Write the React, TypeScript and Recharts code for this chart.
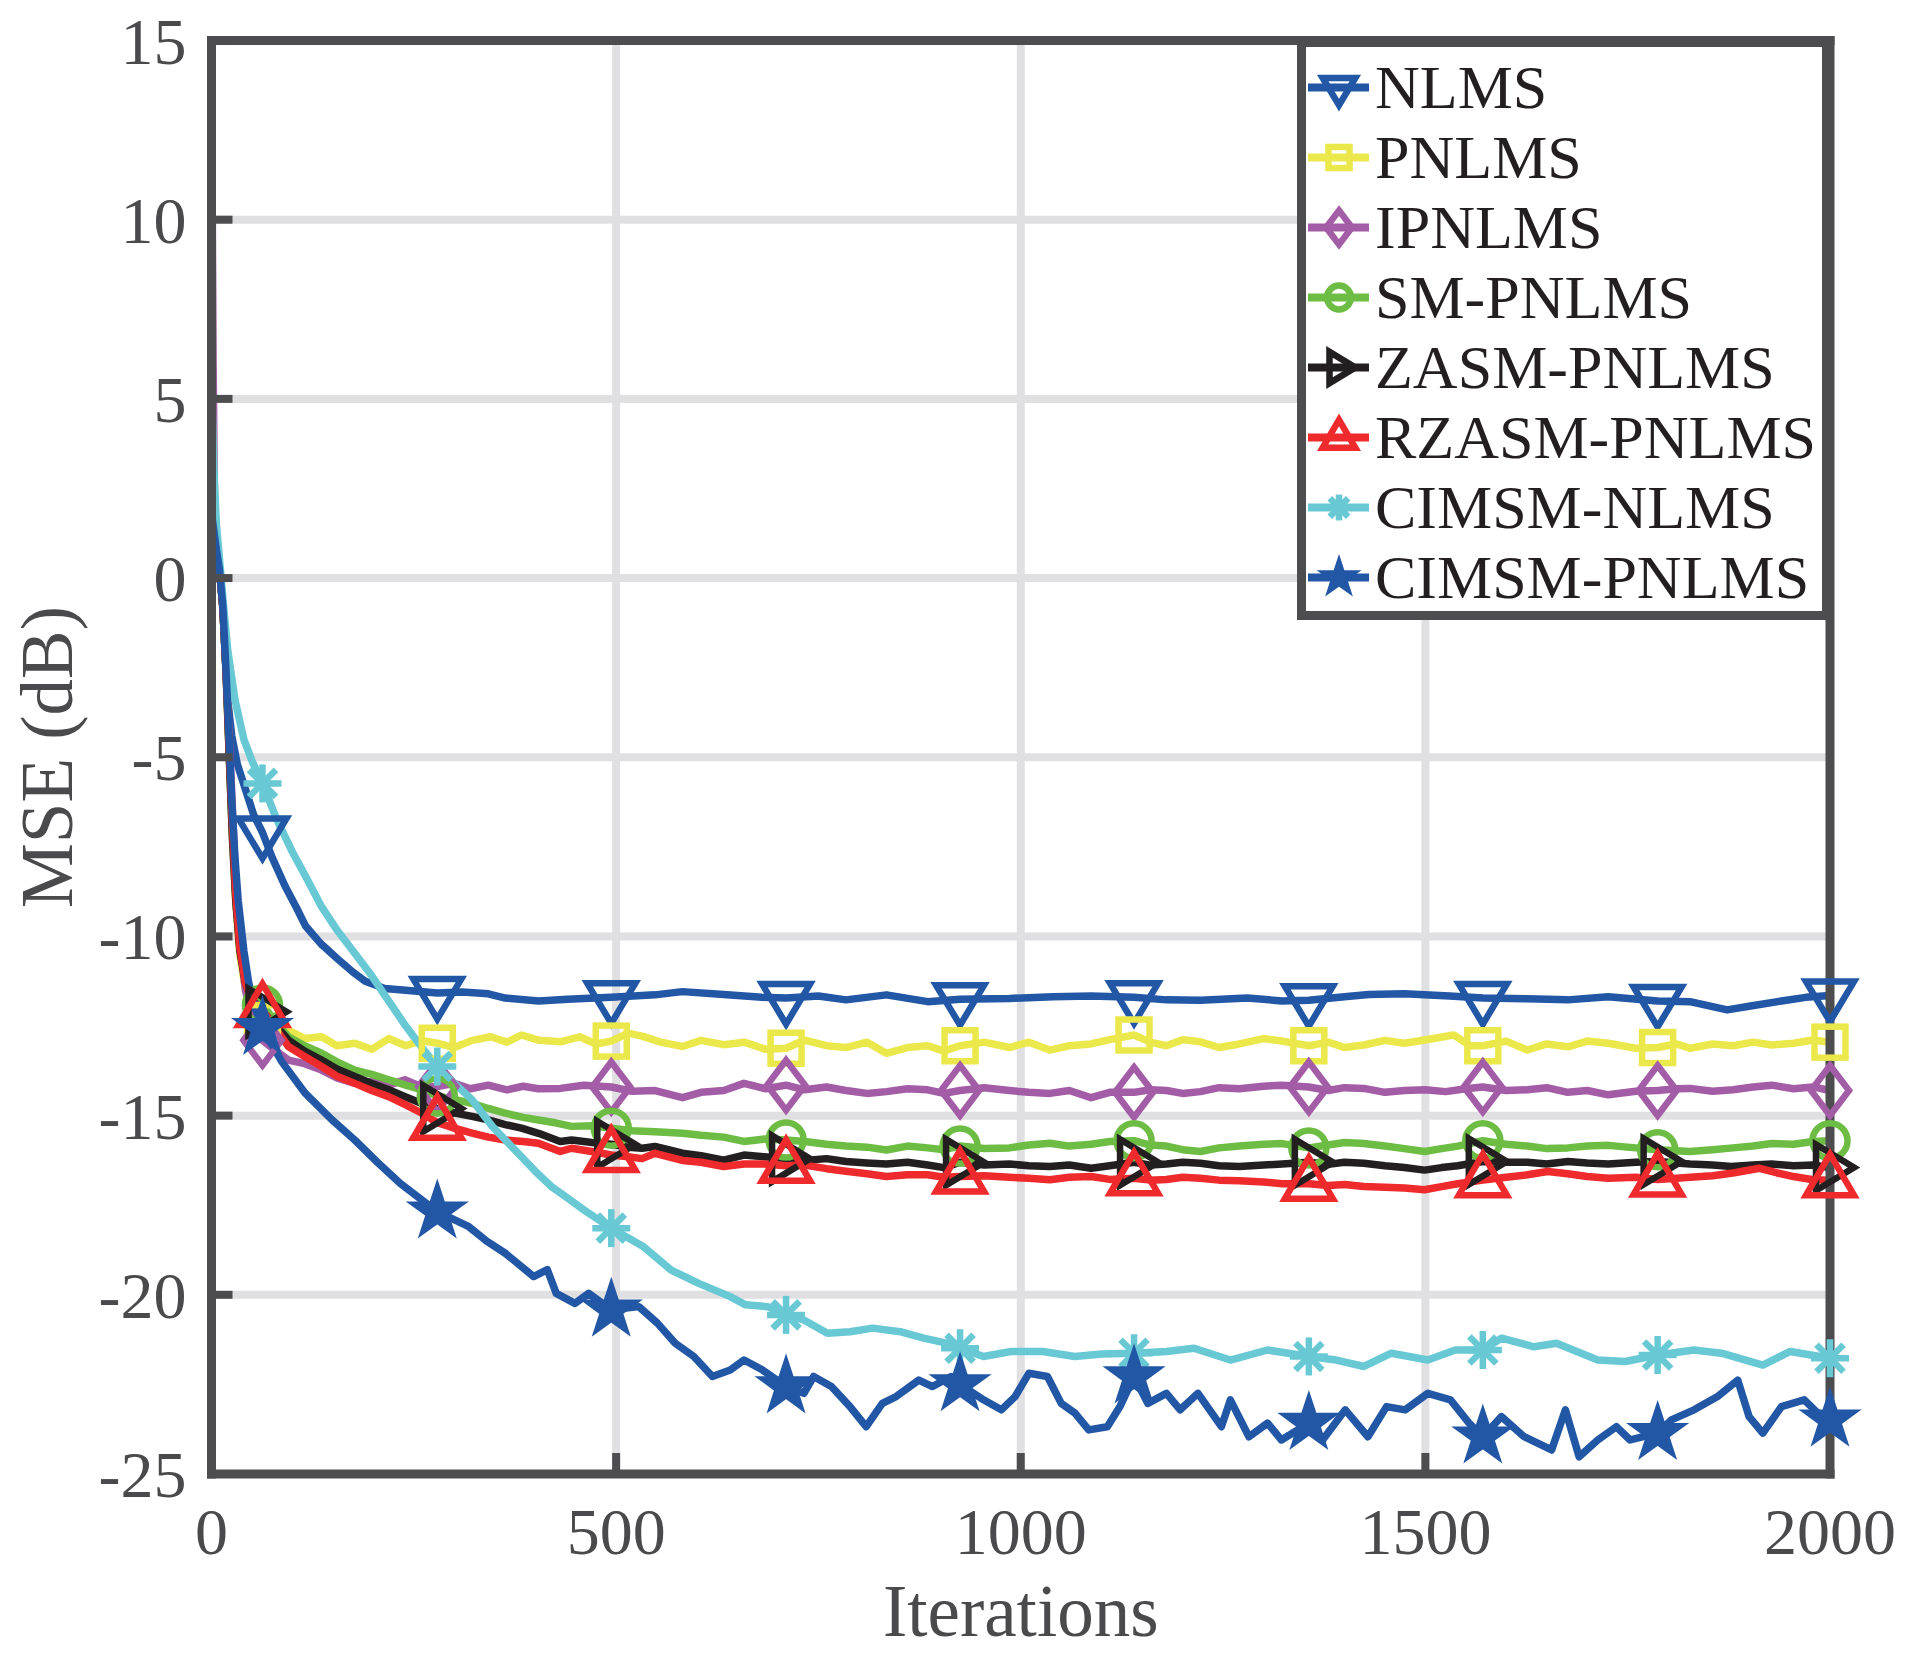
import React from "react";
import { LineChart, Line, XAxis, YAxis, CartesianGrid, Legend } from "recharts";

// iterations where MATLAB-style markers sit on every curve
const MARKER_ITS = [63, 279, 494, 710, 925, 1140, 1356, 1571, 1787, 2000];
const X_TICKS = [0, 500, 1000, 1500, 2000];
const Y_TICKS = [-25, -20, -15, -10, -5, 0, 5, 10, 15];

// [iteration, MSE dB]
const NLMS: [number, number][] = [
  [0, 9], [2, 1.8], [6, 0.8], [10, 0.2], [14, -0.8], [17, -2.2], [20, -3.4], [25, -4.4], [32, -5.2], [42, -5.9],
  [52, -6.6], [63, -7.1], [75, -7.8], [91, -8.6], [105, -9.2], [116, -9.7], [135, -10.2], [157, -10.65], [175, -11.0],
  [190, -11.25], [214, -11.45], [240, -11.5], [279, -11.58], [310, -11.55], [342, -11.6], [363, -11.72], [404, -11.8],
  [440, -11.75], [494, -11.7], [548, -11.63], [582, -11.54], [633, -11.62], [680, -11.7], [710, -11.72], [750, -11.66],
  [784, -11.77], [834, -11.63], [885, -11.82], [925, -11.75], [986, -11.73], [1040, -11.68], [1087, -11.66],
  [1140, -11.7], [1180, -11.77], [1222, -11.78], [1280, -11.72], [1323, -11.8], [1356, -11.78], [1400, -11.68],
  [1430, -11.62], [1474, -11.6], [1530, -11.66], [1571, -11.72], [1626, -11.74], [1676, -11.77], [1726, -11.68],
  [1787, -11.8], [1827, -11.82], [1873, -12.05], [1900, -11.95], [1940, -11.8], [1970, -11.7], [2000, -11.65],
];

const PNLMS: [number, number][] = [
  [0, 8], [2, 1.8], [6, 0.8], [10, 0.2], [14, -0.8], [18, -2.6], [22, -5], [26, -7.2], [30, -9], [35, -10.5],
  [42, -11.5], [50, -12.0], [63, -12.35], [80, -12.5], [95, -12.61], [115, -12.85], [136, -12.8], [155, -13.05],
  [177, -12.98], [198, -13.15], [219, -12.85], [240, -13.05], [260, -12.9], [279, -12.98], [300, -13.1], [322, -12.9],
  [345, -12.8], [365, -12.95], [383, -12.75], [405, -12.9], [431, -12.94], [455, -12.8], [475, -13.0], [494, -12.92],
  [515, -12.7], [532, -12.78], [555, -12.95], [582, -13.07], [605, -12.9], [633, -13.02], [658, -12.95], [685, -13.15],
  [710, -13.12], [733, -12.89], [760, -13.05], [784, -13.1], [810, -12.95], [834, -13.26], [860, -13.1], [885, -13.05],
  [905, -13.2], [925, -13.05], [955, -12.95], [986, -13.1], [1010, -12.95], [1036, -13.17], [1060, -13.05],
  [1087, -13.0], [1110, -12.88], [1140, -12.75], [1160, -12.95], [1180, -13.05], [1200, -12.88], [1222, -12.94],
  [1245, -13.1], [1270, -13.0], [1300, -12.85], [1323, -12.92], [1356, -13.05], [1380, -12.95], [1400, -13.1],
  [1424, -13.03], [1450, -12.9], [1474, -12.98], [1499, -12.89], [1535, -12.75], [1555, -13.05], [1571, -13.05],
  [1600, -12.92], [1626, -13.17], [1650, -13.0], [1676, -13.08], [1700, -12.92], [1726, -12.98], [1760, -13.12],
  [1787, -13.1], [1810, -13.0], [1827, -13.12], [1855, -13.0], [1880, -13.05], [1905, -12.95], [1928, -13.03],
  [1955, -12.98], [1979, -12.89], [2000, -12.95],
];

const IPNLMS: [number, number][] = [
  [0, 13], [1, 10], [2, 6], [4, 1.5], [8, 0.4], [12, -0.2], [16, -1.5], [20, -3.5], [25, -6.0], [30, -8.5],
  [35, -10.2], [42, -11.5], [50, -12.3], [63, -12.9], [80, -13.2], [95, -13.45], [115, -13.55], [136, -13.73],
  [155, -13.95], [177, -14.1], [198, -14.05], [219, -14.15], [239, -14.0], [260, -14.2], [279, -14.19], [300, -14.1],
  [320, -14.25], [342, -14.15], [365, -14.28], [385, -14.18], [404, -14.25], [431, -14.24], [460, -14.15],
  [494, -14.2], [520, -14.32], [548, -14.3], [582, -14.5], [605, -14.35], [633, -14.3], [658, -14.1], [685, -14.25],
  [710, -14.15], [733, -14.28], [760, -14.2], [784, -14.3], [810, -14.38], [834, -14.33], [860, -14.25],
  [885, -14.28], [905, -14.38], [925, -14.3], [955, -14.22], [986, -14.3], [1010, -14.35], [1036, -14.38],
  [1060, -14.3], [1087, -14.5], [1110, -14.35], [1140, -14.35], [1160, -14.28], [1180, -14.3], [1200, -14.38],
  [1222, -14.33], [1245, -14.22], [1270, -14.25], [1300, -14.18], [1323, -14.15], [1356, -14.2], [1380, -14.3],
  [1400, -14.22], [1424, -14.24], [1450, -14.35], [1474, -14.3], [1500, -14.28], [1525, -14.33], [1550, -14.25],
  [1571, -14.2], [1600, -14.3], [1626, -14.28], [1650, -14.22], [1676, -14.35], [1700, -14.3], [1726, -14.42],
  [1760, -14.32], [1787, -14.3], [1810, -14.25], [1827, -14.24], [1855, -14.32], [1880, -14.28], [1905, -14.2],
  [1928, -14.15], [1955, -14.25], [1979, -14.2], [2000, -14.3],
];

const SM_PNLMS: [number, number][] = [
  [0, 1.8], [6, 0.8], [10, 0.2], [14, -0.8], [18, -2.6], [22, -5], [26, -7.3], [30, -9.0], [35, -10.3], [42, -11.2],
  [50, -11.6], [63, -11.91], [80, -12.4], [95, -12.8], [115, -13.05], [136, -13.26], [155, -13.5], [177, -13.73],
  [198, -13.85], [219, -14.0], [240, -14.15], [260, -14.28], [279, -14.45], [300, -14.55], [322, -14.66],
  [342, -14.8], [363, -14.93], [385, -15.05], [404, -15.12], [425, -15.2], [445, -15.3], [470, -15.28],
  [494, -15.35], [520, -15.42], [548, -15.45], [582, -15.49], [605, -15.55], [633, -15.6], [658, -15.72],
  [685, -15.65], [710, -15.68], [733, -15.72], [760, -15.8], [784, -15.85], [810, -15.88], [834, -15.96],
  [860, -15.85], [885, -15.9], [905, -15.95], [925, -15.85], [955, -15.92], [986, -15.9], [1010, -15.82],
  [1036, -15.77], [1060, -15.85], [1087, -15.8], [1110, -15.72], [1140, -15.7], [1160, -15.82], [1180, -15.85],
  [1200, -15.95], [1222, -16.0], [1245, -15.9], [1270, -15.85], [1300, -15.8], [1323, -15.78], [1356, -15.9],
  [1380, -15.82], [1400, -15.75], [1424, -15.78], [1450, -15.85], [1474, -15.92], [1499, -16.0], [1520, -15.92],
  [1540, -15.85], [1571, -15.7], [1600, -15.8], [1626, -15.85], [1650, -15.92], [1676, -15.9], [1700, -15.85],
  [1726, -15.83], [1760, -15.9], [1787, -15.95], [1810, -15.98], [1827, -16.0], [1855, -15.95], [1880, -15.9],
  [1905, -15.85], [1928, -15.78], [1955, -15.8], [1979, -15.72], [2000, -15.7],
];

const ZASM_PNLMS: [number, number][] = [
  [0, 1.8], [6, 0.8], [10, 0.2], [14, -0.8], [18, -2.6], [22, -5], [26, -7.3], [30, -9.0], [35, -10.4], [42, -11.3],
  [50, -11.75], [63, -12.1], [80, -12.5], [95, -12.89], [115, -13.2], [136, -13.45], [155, -13.7], [177, -13.91],
  [198, -14.1], [219, -14.28], [240, -14.48], [260, -14.66], [279, -14.8], [301, -14.93], [322, -15.02],
  [342, -15.12], [363, -15.25], [383, -15.35], [405, -15.5], [431, -15.72], [445, -15.68], [470, -15.75],
  [494, -15.8], [515, -15.88], [532, -15.91], [548, -15.86], [582, -16.05], [605, -16.12], [633, -16.24],
  [658, -16.1], [683, -16.15], [710, -16.2], [733, -16.25], [760, -16.2], [784, -16.28], [810, -16.32],
  [834, -16.35], [860, -16.3], [885, -16.38], [905, -16.45], [925, -16.3], [955, -16.38], [986, -16.35],
  [1010, -16.4], [1036, -16.42], [1060, -16.38], [1087, -16.47], [1110, -16.4], [1140, -16.3], [1160, -16.38],
  [1180, -16.35], [1200, -16.3], [1222, -16.33], [1245, -16.4], [1270, -16.42], [1300, -16.38], [1323, -16.35],
  [1356, -16.3], [1380, -16.36], [1400, -16.3], [1424, -16.33], [1450, -16.4], [1474, -16.45], [1499, -16.52],
  [1520, -16.45], [1540, -16.4], [1571, -16.28], [1600, -16.3], [1626, -16.3], [1650, -16.35], [1676, -16.28],
  [1700, -16.32], [1726, -16.35], [1760, -16.3], [1787, -16.28], [1810, -16.32], [1827, -16.35], [1855, -16.38],
  [1878, -16.42], [1905, -16.38], [1928, -16.35], [1955, -16.4], [1979, -16.38], [2000, -16.45],
];

const RZASM_PNLMS: [number, number][] = [
  [0, 1.8], [6, 0.8], [10, 0.2], [14, -0.8], [18, -2.6], [22, -4.8], [26, -7.0], [30, -8.8], [35, -10.3],
  [42, -11.3], [50, -11.8], [63, -12.05], [80, -12.6], [95, -13.07], [115, -13.35], [136, -13.63], [155, -13.9],
  [177, -14.1], [198, -14.3], [219, -14.47], [240, -14.7], [260, -14.93], [279, -15.2], [300, -15.35],
  [322, -15.49], [342, -15.6], [363, -15.68], [385, -15.72], [404, -15.77], [431, -16.0], [445, -15.91],
  [470, -16.0], [494, -16.1], [515, -16.15], [532, -16.2], [548, -16.05], [582, -16.25], [605, -16.3],
  [633, -16.42], [658, -16.35], [683, -16.35], [710, -16.4], [733, -16.38], [760, -16.48], [784, -16.55],
  [810, -16.62], [834, -16.7], [860, -16.65], [885, -16.65], [905, -16.72], [925, -16.7], [955, -16.68],
  [986, -16.72], [1010, -16.75], [1036, -16.79], [1060, -16.72], [1087, -16.7], [1110, -16.78], [1140, -16.75],
  [1160, -16.8], [1180, -16.78], [1200, -16.72], [1222, -16.75], [1245, -16.8], [1270, -16.82], [1300, -16.85],
  [1323, -16.9], [1356, -16.9], [1380, -16.95], [1400, -16.92], [1424, -16.98], [1450, -17.0], [1474, -17.02],
  [1499, -17.07], [1520, -16.98], [1540, -16.9], [1571, -16.8], [1600, -16.72], [1626, -16.65], [1651, -16.56],
  [1676, -16.62], [1700, -16.7], [1726, -16.75], [1760, -16.72], [1787, -16.78], [1810, -16.75], [1827, -16.72],
  [1855, -16.68], [1880, -16.6], [1913, -16.47], [1935, -16.6], [1955, -16.7], [1979, -16.79], [2000, -16.8],
];

const CIMSM_NLMS: [number, number][] = [
  [0, 5.4], [3, 3], [6, 1.5], [10, 0.5], [15, -0.8], [20, -2.0], [29, -3.4], [40, -4.5], [50, -5.1], [63, -5.73],
  [80, -6.7], [99, -7.6], [118, -8.4], [136, -9.17], [156, -9.85], [177, -10.47], [198, -11.1], [218, -11.77],
  [240, -12.5], [260, -13.1], [279, -13.63], [300, -14.1], [322, -14.56], [347, -15.3], [375, -15.96],
  [400, -16.55], [420, -16.98], [440, -17.3], [460, -17.63], [494, -18.14], [534, -18.66], [568, -19.31],
  [602, -19.68], [641, -20.05], [660, -20.28], [687, -20.33], [710, -20.56], [732, -20.7], [761, -21.07],
  [789, -21.03], [817, -20.93], [851, -21.03], [880, -21.21], [908, -21.35], [925, -21.49], [954, -21.72],
  [988, -21.58], [1027, -21.58], [1067, -21.72], [1100, -21.65], [1140, -21.63], [1180, -21.58], [1214, -21.49],
  [1259, -21.82], [1305, -21.54], [1356, -21.72], [1390, -21.82], [1424, -22.0], [1458, -21.63], [1503, -21.82],
  [1537, -21.54], [1571, -21.54], [1594, -21.21], [1634, -21.45], [1662, -21.35], [1713, -21.82], [1747, -21.86],
  [1787, -21.68], [1832, -21.54], [1866, -21.63], [1917, -21.96], [1951, -21.58], [2000, -21.77],
];

const CIMSM_PNLMS: [number, number][] = [
  [0, 1.8], [6, 0.8], [10, 0.2], [14, -0.8], [18, -2.6], [22, -4.6], [25, -6.2], [29, -7.8], [33, -9.0],
  [40, -10.4], [46, -11.3], [54, -12.0], [63, -12.56], [87, -13.5], [116, -14.38], [149, -15.12], [177, -15.68],
  [205, -16.3], [233, -16.89], [279, -17.68], [318, -18.1], [340, -18.5], [363, -18.84], [398, -19.49],
  [415, -19.3], [426, -19.96], [449, -20.24], [466, -19.96], [494, -20.42], [528, -20.33], [551, -20.79],
  [573, -21.35], [596, -21.72], [619, -22.28], [641, -22.1], [658, -21.82], [681, -22.1], [710, -22.56],
  [732, -22.75], [744, -22.28], [766, -22.56], [789, -23.12], [809, -23.68], [829, -23.03], [846, -22.84],
  [874, -22.38], [891, -22.56], [914, -22.28], [925, -22.5], [954, -22.93], [976, -23.21], [993, -22.84],
  [1010, -22.19], [1033, -22.28], [1050, -23.03], [1067, -23.3], [1084, -23.77], [1107, -23.68], [1123, -23.1],
  [1140, -22.28], [1157, -23.03], [1180, -22.75], [1197, -23.21], [1219, -22.75], [1248, -23.68], [1259, -22.93],
  [1282, -23.96], [1305, -23.58], [1322, -24.05], [1356, -23.58], [1373, -24.05], [1401, -23.21], [1429, -23.96],
  [1452, -23.12], [1475, -23.21], [1503, -22.75], [1531, -22.93], [1554, -23.58], [1571, -23.96], [1594, -23.4],
  [1622, -23.96], [1656, -24.33], [1673, -23.21], [1690, -24.52], [1713, -24.05], [1736, -23.68], [1753, -24.05],
  [1787, -23.86], [1804, -23.49], [1832, -23.21], [1861, -22.84], [1886, -22.38], [1900, -23.4], [1917, -23.86],
  [1940, -23.12], [1968, -22.93], [1985, -23.3], [2000, -23.49],
];

type Shape = "triDown" | "square" | "diamond" | "circle" | "triRight" | "triUp" | "asterisk" | "star";

const SERIES: { name: string; values: [number, number][]; color: string; shape: Shape }[] = [
  { name: "NLMS", values: NLMS, color: "#2257a6", shape: "triDown" },
  { name: "PNLMS", values: PNLMS, color: "#ebe84c", shape: "square" },
  { name: "IPNLMS", values: IPNLMS, color: "#a35ca6", shape: "diamond" },
  { name: "SM-PNLMS", values: SM_PNLMS, color: "#6dbd45", shape: "circle" },
  { name: "ZASM-PNLMS", values: ZASM_PNLMS, color: "#231f20", shape: "triRight" },
  { name: "RZASM-PNLMS", values: RZASM_PNLMS, color: "#ee2a2c", shape: "triUp" },
  { name: "CIMSM-NLMS", values: CIMSM_NLMS, color: "#68c9d4", shape: "asterisk" },
  { name: "CIMSM-PNLMS", values: CIMSM_PNLMS, color: "#2257a6", shape: "star" },
];

const FRAME = "#4d4d4f";
const LABEL = "#4a4a4c";
const SERIF = "'Liberation Serif', 'Times New Roman', serif";
const markerSet = new Set(MARKER_ITS);

function Marker({ shape, cx, cy, color, s = 1 }: { shape: Shape; cx: number; cy: number; color: string; s?: number }) {
  const common = { fill: "none", stroke: color, strokeWidth: 6.5, strokeLinejoin: "miter" as const };
  switch (shape) {
    case "triDown":
      return <polygon {...common} points={`${cx - 24 * s},${cy - 14 * s} ${cx + 24 * s},${cy - 14 * s} ${cx},${cy + 26 * s}`} />;
    case "square":
      return <rect {...common} x={cx - 15.5 * s} y={cy - 15.5 * s} width={31 * s} height={31 * s} />;
    case "diamond":
      return <polygon {...common} points={`${cx},${cy - 25 * s} ${cx + 19 * s},${cy} ${cx},${cy + 25 * s} ${cx - 19 * s},${cy}`} />;
    case "circle":
      return <circle {...common} cx={cx} cy={cy} r={17.5 * s} />;
    case "triRight":
      return <polygon {...common} points={`${cx - 14 * s},${cy - 23 * s} ${cx - 14 * s},${cy + 23 * s} ${cx + 24 * s},${cy}`} />;
    case "triUp":
      return <polygon {...common} points={`${cx - 24 * s},${cy + 15 * s} ${cx + 24 * s},${cy + 15 * s} ${cx},${cy - 26 * s}`} />;
    case "asterisk": {
      const a = 19 * s;
      const d = 13.5 * s;
      return (
        <g stroke={color} strokeWidth={6.5}>
          <line x1={cx - a} y1={cy} x2={cx + a} y2={cy} />
          <line x1={cx} y1={cy - a} x2={cx} y2={cy + a} />
          <line x1={cx - d} y1={cy - d} x2={cx + d} y2={cy + d} />
          <line x1={cx - d} y1={cy + d} x2={cx + d} y2={cy - d} />
        </g>
      );
    }
    case "star": {
      const pts: string[] = [];
      for (let i = 0; i < 10; i++) {
        const r = (i % 2 === 0 ? 30 : 11.5) * s;
        const ang = -Math.PI / 2 + (i * Math.PI) / 5;
        pts.push(`${cx + r * Math.cos(ang)},${cy + r * Math.sin(ang)}`);
      }
      return <polygon points={pts.join(" ")} fill={color} stroke={color} strokeWidth={2} />;
    }
  }
  return null;
}

const LeftTick = (p: any) => (
  <g>
    <line x1={p.x} x2={p.x + 21} y1={p.y} y2={p.y} stroke={FRAME} strokeWidth={8} />
    <text x={p.x - 25} y={p.y + 23} textAnchor="end" fontSize={66} fontFamily={SERIF} fill={LABEL}>
      {p.payload.value}
    </text>
  </g>
);

const RightTick = (p: any) => <line x1={p.x} x2={p.x - 21} y1={p.y} y2={p.y} stroke={FRAME} strokeWidth={8} />;

const TopTick = (p: any) => <line x1={p.x} x2={p.x} y1={p.y} y2={p.y + 21} stroke={FRAME} strokeWidth={8} />;

const BottomTick = (p: any) => (
  <g>
    <line x1={p.x} x2={p.x} y1={p.y} y2={p.y - 21} stroke={FRAME} strokeWidth={8} />
    <text x={p.x} y={p.y + 80} textAnchor="middle" fontSize={66} fontFamily={SERIF} fill={LABEL}>
      {p.payload.value}
    </text>
  </g>
);

const YTitle = () => (
  <text transform="translate(72,757) rotate(-90)" x={0} y={0} textAnchor="middle" fontSize={73} fontFamily={SERIF} fill={LABEL}>
    MSE (dB)
  </text>
);

function LegendBox() {
  return (
    <svg width={534} height={582} style={{ display: "block" }}>
      <rect x={4.5} y={4.5} width={525} height={573} fill="#ffffff" stroke={FRAME} strokeWidth={9} />
      {SERIES.map((s, i) => {
        const cy = 49.5 + i * 70;
        return (
          <g key={s.name}>
            <line x1={11} x2={72} y1={cy} y2={cy} stroke={s.color} strokeWidth={8} />
            <Marker shape={s.shape} cx={42} cy={cy} color={s.color} s={0.68} />
            <text x={78} y={cy + 20} fontSize={62} fontFamily={SERIF} fill="#231f20">
              {s.name}
            </text>
          </g>
        );
      })}
    </svg>
  );
}

export default function App() {
  return (
    <div style={{ width: 1915, height: 1657, background: "#ffffff", position: "relative" }}>
      <style>{"body{margin:0}"}</style>
      <LineChart width={1915} height={1657} margin={{ top: 39.5, right: 84, bottom: 0, left: 0 }}>
        <CartesianGrid stroke="#e0e0e2" strokeWidth={8} />
        <XAxis
          dataKey="it"
          type="number"
          domain={[0, 2000]}
          ticks={X_TICKS}
          interval={0}
          height={183}
          tickLine={false}
          tickSize={0}
          tickMargin={0}
          tick={<BottomTick />}
          axisLine={{ stroke: FRAME, strokeWidth: 9, strokeLinecap: "square" }}
          label={{ value: "Iterations", position: "insideBottom", offset: 21, fontSize: 73, fontFamily: SERIF, fill: LABEL }}
        />
        <XAxis
          xAxisId="top"
          orientation="top"
          type="number"
          domain={[0, 2000]}
          ticks={X_TICKS}
          interval={0}
          height={1}
          tickLine={false}
          tickSize={0}
          tickMargin={0}
          tick={<TopTick />}
          axisLine={{ stroke: FRAME, strokeWidth: 9, strokeLinecap: "square" }}
        />
        <YAxis
          type="number"
          domain={[-25, 15]}
          ticks={Y_TICKS}
          interval={0}
          width={211.5}
          tickLine={false}
          tickSize={0}
          tickMargin={0}
          tick={<LeftTick />}
          axisLine={{ stroke: FRAME, strokeWidth: 9, strokeLinecap: "square" }}
          label={<YTitle />}
        />
        <YAxis
          yAxisId="right"
          orientation="right"
          type="number"
          domain={[-25, 15]}
          ticks={Y_TICKS}
          interval={0}
          width={1}
          tickLine={false}
          tickSize={0}
          tickMargin={0}
          tick={<RightTick />}
          axisLine={{ stroke: FRAME, strokeWidth: 9, strokeLinecap: "square" }}
        />
        {SERIES.map((s) => (
          <Line
            key={s.name}
            name={s.name}
            data={s.values.map(([it, v]) => ({ it, v }))}
            dataKey="v"
            type="linear"
            stroke={s.color}
            strokeWidth={7.5}
            strokeLinejoin="round"
            isAnimationActive={false}
            activeDot={false}
            dot={(p: any) =>
              markerSet.has(p.payload.it) ? (
                <Marker key={`${s.name}-${p.index}`} shape={s.shape} cx={p.cx} cy={p.cy} color={s.color} />
              ) : (
                <g key={`${s.name}-${p.index}`} />
              )
            }
          />
        ))}
        <Legend
          layout="horizontal"
          verticalAlign="middle"
          align="center"
          wrapperStyle={{ left: 1297, top: 38, width: 534, height: 582 }}
          content={() => <LegendBox />}
        />
      </LineChart>
    </div>
  );
}
